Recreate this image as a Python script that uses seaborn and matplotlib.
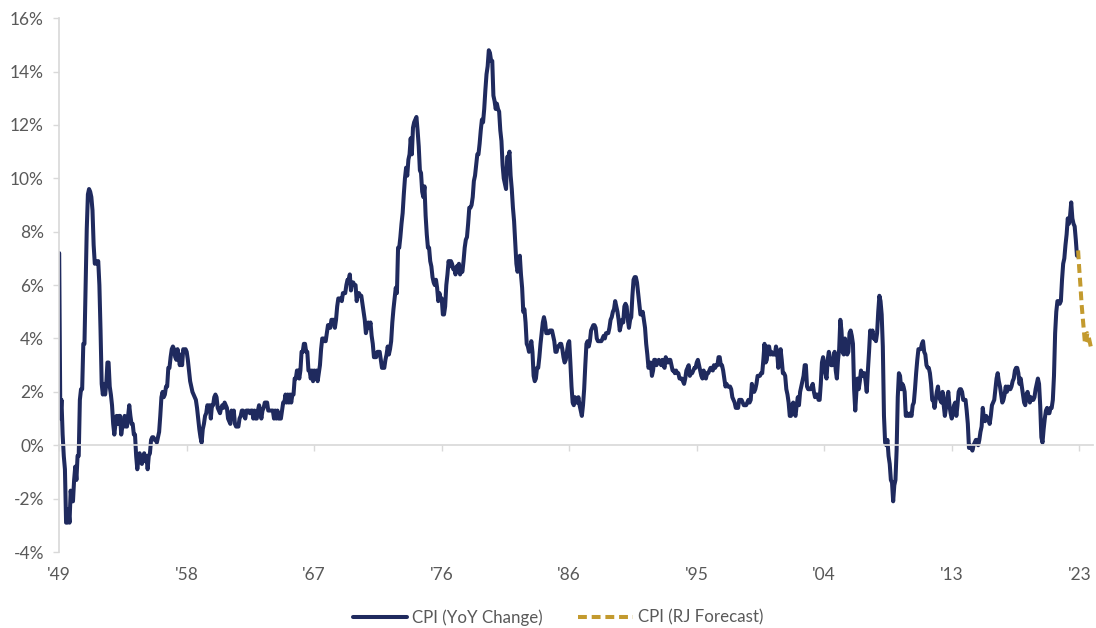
import numpy as np
import pandas as pd
import seaborn as sns
import matplotlib.pyplot as plt

# CPI year-over-year change (%), monthly, Jan 1949 - Nov 2022
cpi_yoy = [
    7.2, 1.0, 1.7, 0.4, -0.4, -0.9, -2.9, -2.9, -2.4, -2.9, -1.7, -2.1,  # 1949
    -2.1, -1.3, -0.8, -1.3, -0.4, -0.4, 1.7, 2.1, 2.1, 3.8, 3.8, 5.9,  # 1950
    8.1, 9.4, 9.6, 9.5, 9.3, 8.8, 7.5, 6.8, 6.9, 6.8, 6.9, 6.0,  # 1951
    4.3, 2.3, 1.9, 2.3, 1.9, 2.3, 3.1, 3.1, 2.2, 1.9, 1.5, 0.8,  # 1952
    0.4, 0.8, 1.1, 0.8, 1.1, 1.1, 0.4, 0.7, 0.7, 1.1, 0.7, 0.7,  # 1953
    1.1, 1.5, 1.1, 0.8, 0.8, 0.4, 0.4, -0.4, -0.9, -0.5, -0.3, -0.6,  # 1954
    -0.7, -0.5, -0.3, -0.6, -0.4, -0.9, -0.4, -0.3, 0.2, 0.3, 0.3, 0.2,  # 1955
    0.2, 0.1, 0.3, 0.5, 1.1, 1.8, 2.0, 1.8, 1.9, 2.2, 2.2, 2.9,  # 1956
    2.9, 3.3, 3.6, 3.7, 3.6, 3.3, 3.2, 3.6, 3.3, 3.0, 3.4, 3.0,  # 1957
    3.6, 3.5, 3.6, 3.5, 3.2, 2.8, 2.4, 2.2, 2.0, 1.9, 1.8, 1.7,  # 1958
    1.4, 1.0, 0.6, 0.3, 0.1, 0.6, 0.8, 1.1, 1.2, 1.5, 1.4, 1.5,  # 1959
    1.0, 1.5, 1.5, 1.8, 1.9, 1.8, 1.4, 1.3, 1.2, 1.4, 1.5, 1.4,  # 1960
    1.6, 1.5, 1.4, 1.0, 0.9, 0.8, 1.3, 1.0, 1.3, 0.8, 0.7, 0.7,  # 1961
    0.7, 1.0, 1.1, 1.3, 1.3, 1.1, 1.0, 1.3, 1.3, 1.3, 1.2, 1.3,  # 1962
    1.3, 1.0, 1.3, 1.0, 1.0, 1.3, 1.5, 1.3, 1.0, 1.3, 1.4, 1.6,  # 1963
    1.6, 1.6, 1.3, 1.3, 1.3, 1.3, 1.3, 1.0, 1.3, 1.0, 1.3, 1.0,  # 1964
    1.0, 1.0, 1.3, 1.6, 1.6, 1.9, 1.6, 1.9, 1.6, 1.9, 1.6, 1.9,  # 1965
    1.9, 2.5, 2.5, 2.8, 2.8, 2.5, 2.8, 3.5, 3.5, 3.8, 3.8, 3.5,  # 1966
    3.5, 2.8, 2.8, 2.5, 2.8, 2.4, 2.8, 2.5, 2.8, 2.4, 2.7, 3.0,  # 1967
    3.6, 4.0, 4.0, 3.9, 3.9, 4.2, 4.5, 4.5, 4.4, 4.7, 4.7, 4.7,  # 1968
    4.4, 4.7, 5.2, 5.5, 5.5, 5.5, 5.4, 5.7, 5.7, 5.7, 6.0, 6.2,  # 1969
    6.2, 6.4, 5.8, 6.1, 6.1, 6.0, 6.0, 5.4, 5.7, 5.7, 5.6, 5.6,  # 1970
    5.3, 5.0, 4.7, 4.2, 4.4, 4.6, 4.4, 4.6, 4.1, 3.8, 3.3, 3.3,  # 1971
    3.3, 3.5, 3.5, 3.5, 3.2, 2.9, 2.9, 2.9, 3.2, 3.4, 3.7, 3.4,  # 1972
    3.6, 3.9, 4.6, 5.1, 5.5, 5.9, 5.7, 7.4, 7.4, 7.8, 8.3, 8.7,  # 1973
    9.4, 10.0, 10.4, 10.1, 10.7, 10.9, 11.5, 10.9, 11.9, 12.1, 12.2, 12.3,  # 1974
    11.8, 11.2, 10.3, 10.2, 9.5, 9.3, 9.7, 8.6, 7.9, 7.4, 7.4, 6.9,  # 1975
    6.7, 6.3, 6.1, 6.0, 6.2, 5.9, 5.4, 5.7, 5.5, 5.5, 4.9, 4.9,  # 1976
    5.2, 6.0, 6.4, 6.9, 6.7, 6.9, 6.8, 6.6, 6.6, 6.4, 6.7, 6.7,  # 1977
    6.8, 6.4, 6.6, 6.5, 6.9, 7.4, 7.7, 7.8, 8.3, 8.9, 8.9, 9.0,  # 1978
    9.3, 9.9, 10.1, 10.5, 10.9, 10.9, 11.3, 11.8, 12.2, 12.1, 12.6, 13.3,  # 1979
    13.9, 14.2, 14.8, 14.7, 14.4, 14.4, 13.1, 12.9, 12.6, 12.8, 12.6, 12.5,  # 1980
    11.8, 11.4, 10.5, 10.0, 9.8, 9.6, 10.8, 10.8, 11.0, 10.1, 9.6, 8.9,  # 1981
    8.4, 7.6, 6.8, 6.5, 6.7, 7.1, 6.4, 5.9, 5.0, 5.1, 4.6, 3.8,  # 1982
    3.7, 3.5, 3.6, 3.9, 3.5, 2.6, 2.4, 2.5, 2.9, 2.9, 3.3, 3.8,  # 1983
    4.2, 4.6, 4.8, 4.6, 4.2, 4.2, 4.2, 4.3, 4.3, 4.3, 4.1, 3.9,  # 1984
    3.5, 3.5, 3.7, 3.7, 3.8, 3.8, 3.6, 3.3, 3.1, 3.2, 3.5, 3.8,  # 1985
    3.9, 3.1, 2.2, 1.6, 1.5, 1.8, 1.6, 1.6, 1.8, 1.5, 1.3, 1.1,  # 1986
    1.5, 2.1, 3.0, 3.8, 3.9, 3.7, 3.9, 4.3, 4.4, 4.5, 4.5, 4.4,  # 1987
    4.0, 3.9, 3.9, 3.9, 3.9, 4.0, 4.1, 4.0, 4.2, 4.2, 4.2, 4.4,  # 1988
    4.7, 4.8, 5.0, 5.1, 5.4, 5.2, 5.0, 4.7, 4.3, 4.5, 4.7, 4.6,  # 1989
    5.2, 5.3, 5.2, 4.7, 4.4, 4.7, 4.8, 5.6, 6.2, 6.3, 6.3, 6.1,  # 1990
    5.7, 5.3, 4.9, 4.9, 5.0, 4.7, 4.4, 3.8, 3.4, 2.9, 3.0, 3.1,  # 1991
    2.6, 2.8, 3.2, 3.2, 3.0, 3.1, 3.2, 3.1, 3.0, 3.2, 3.0, 2.9,  # 1992
    3.3, 3.2, 3.1, 3.2, 3.2, 3.0, 2.8, 2.8, 2.7, 2.8, 2.7, 2.7,  # 1993
    2.5, 2.5, 2.5, 2.4, 2.3, 2.5, 2.8, 2.9, 3.0, 2.6, 2.7, 2.7,  # 1994
    2.8, 2.9, 2.9, 3.1, 3.2, 3.0, 2.8, 2.6, 2.5, 2.8, 2.6, 2.5,  # 1995
    2.7, 2.7, 2.8, 2.9, 2.9, 2.8, 3.0, 2.9, 3.0, 3.0, 3.3, 3.3,  # 1996
    3.0, 3.0, 2.8, 2.5, 2.2, 2.3, 2.2, 2.2, 2.2, 2.1, 1.8, 1.7,  # 1997
    1.6, 1.4, 1.4, 1.4, 1.7, 1.7, 1.7, 1.6, 1.5, 1.5, 1.5, 1.6,  # 1998
    1.7, 1.6, 1.7, 2.3, 2.1, 2.0, 2.1, 2.3, 2.6, 2.6, 2.6, 2.7,  # 1999
    2.7, 3.2, 3.8, 3.1, 3.2, 3.7, 3.7, 3.4, 3.5, 3.4, 3.4, 3.4,  # 2000
    3.7, 3.5, 2.9, 3.3, 3.6, 3.2, 2.7, 2.7, 2.6, 2.1, 1.9, 1.6,  # 2001
    1.1, 1.1, 1.5, 1.6, 1.2, 1.1, 1.5, 1.8, 1.5, 2.0, 2.2, 2.4,  # 2002
    2.6, 3.0, 3.0, 2.2, 2.1, 2.1, 2.1, 2.2, 2.3, 2.0, 1.8, 1.9,  # 2003
    1.9, 1.7, 1.7, 2.3, 3.1, 3.3, 3.0, 2.7, 2.5, 3.2, 3.5, 3.3,  # 2004
    3.0, 3.0, 3.1, 3.5, 2.8, 2.5, 3.2, 3.6, 4.7, 4.3, 3.5, 3.4,  # 2005
    4.0, 3.6, 3.4, 3.5, 4.2, 4.3, 4.1, 3.8, 2.1, 1.3, 2.0, 2.5,  # 2006
    2.1, 2.4, 2.8, 2.6, 2.7, 2.7, 2.4, 2.0, 2.8, 3.5, 4.3, 4.1,  # 2007
    4.3, 4.0, 4.0, 3.9, 4.2, 5.0, 5.6, 5.4, 4.9, 3.7, 1.1, 0.1,  # 2008
    0.0, 0.2, -0.4, -0.7, -1.3, -1.4, -2.1, -1.5, -1.3, -0.2, 1.8, 2.7,  # 2009
    2.6, 2.1, 2.3, 2.2, 2.0, 1.1, 1.2, 1.1, 1.1, 1.2, 1.1, 1.5,  # 2010
    1.6, 2.1, 2.7, 3.2, 3.6, 3.6, 3.6, 3.8, 3.9, 3.5, 3.4, 3.0,  # 2011
    2.9, 2.9, 2.7, 2.3, 1.7, 1.7, 1.4, 1.7, 2.0, 2.2, 1.8, 1.7,  # 2012
    1.6, 2.0, 1.5, 1.1, 1.4, 1.8, 2.0, 1.5, 1.2, 1.0, 1.2, 1.5,  # 2013
    1.6, 1.1, 1.5, 2.0, 2.1, 2.1, 2.0, 1.7, 1.7, 1.7, 1.3, 0.8,  # 2014
    -0.1, 0.0, -0.1, -0.2, 0.0, 0.1, 0.2, 0.2, 0.0, 0.2, 0.5, 0.7,  # 2015
    1.4, 1.0, 0.9, 1.1, 1.0, 1.0, 0.8, 1.1, 1.5, 1.6, 1.7, 2.1,  # 2016
    2.5, 2.7, 2.4, 2.2, 1.9, 1.6, 1.7, 1.9, 2.2, 2.0, 2.2, 2.1,  # 2017
    2.1, 2.2, 2.4, 2.5, 2.8, 2.9, 2.9, 2.7, 2.3, 2.5, 2.2, 1.9,  # 2018
    1.6, 1.5, 1.9, 2.0, 1.8, 1.6, 1.8, 1.7, 1.7, 1.8, 2.1, 2.3,  # 2019
    2.5, 2.3, 1.5, 0.3, 0.1, 0.6, 1.0, 1.3, 1.4, 1.2, 1.2, 1.4,  # 2020
    1.4, 1.7, 2.6, 4.2, 5.0, 5.4, 5.4, 5.3, 5.4, 6.2, 6.8, 7.0,  # 2021
    7.5, 7.9, 8.5, 8.3, 8.6, 9.1, 8.5, 8.3, 8.2, 7.7, 7.1,  # 2022
]

# RJ forecast (%), Dec 2022 - Dec 2023
rj_forecast = [7.3, 6.6, 6.0, 5.3, 4.8, 4.3, 3.8, 3.9, 4.2, 4.1, 3.9, 3.7, 3.6]

tick_labels = ["'49", "'58", "'67", "'76", "'86", "'95", "'04", "'13", "'23"]
label_step = 111  # months between axis labels

navy = "#1F2A5E"
gold = "#C39A2E"
grey_txt = "#595959"
grey_ln = "#D9D9D9"

n_hist = len(cpi_yoy)
hist = pd.DataFrame({"month": np.arange(n_hist), "value": cpi_yoy})
fcst = pd.DataFrame({"month": np.arange(n_hist, n_hist + len(rj_forecast)),
                     "value": rj_forecast})

sns.set_theme(style="white")
plt.rcParams["font.family"] = ["Lato", "DejaVu Sans"]

fig, ax = plt.subplots(figsize=(10.96, 6.28), dpi=100)
fig.subplots_adjust(left=0.054, right=0.9973, top=0.971, bottom=0.121)

sns.lineplot(data=hist, x="month", y="value", color=navy, linewidth=2.9,
             ax=ax, label="CPI (YoY Change)")
sns.lineplot(data=fcst, x="month", y="value", color=gold, linewidth=2.9,
             linestyle=(0, (2.2, 1.2)), ax=ax, label="CPI (RJ Forecast)")

ax.set_xlim(0, 900)
ax.set_ylim(-4, 16)
yt = list(range(-4, 17, 2))
ax.set_yticks(yt)
ax.set_yticklabels([f"{v}%" for v in yt])
ax.set_xlabel("")
ax.set_ylabel("")

for s in ["top", "right"]:
    ax.spines[s].set_visible(False)
ax.spines["left"].set_color(grey_ln)
ax.spines["bottom"].set_color(grey_ln)
ax.spines["bottom"].set_position(("data", 0))

xt = list(range(0, 900, label_step))
ax.set_xticks(xt)
ax.tick_params(axis="x", length=4, width=1, color=grey_ln, direction="out",
               labelbottom=False, bottom=True)
ax.tick_params(axis="y", length=4, width=1, color=grey_ln, direction="out",
               labelcolor=grey_txt, labelsize=12.5, pad=7, left=True)

sec = ax.secondary_xaxis("bottom")
sec.set_xticks(xt)
sec.set_xticklabels(tick_labels)
sec.tick_params(length=0, pad=11, labelcolor=grey_txt, labelsize=12.5)
sec.spines["bottom"].set_visible(False)

ax.legend(loc="center", bbox_to_anchor=(0.509, 0.017),
          bbox_transform=fig.transFigure, ncol=2, frameon=False,
          fontsize=12.2, handlelength=3.2, handletextpad=0.3,
          columnspacing=2.1, labelcolor=grey_txt)

fig.savefig("out.png", dpi=100)
